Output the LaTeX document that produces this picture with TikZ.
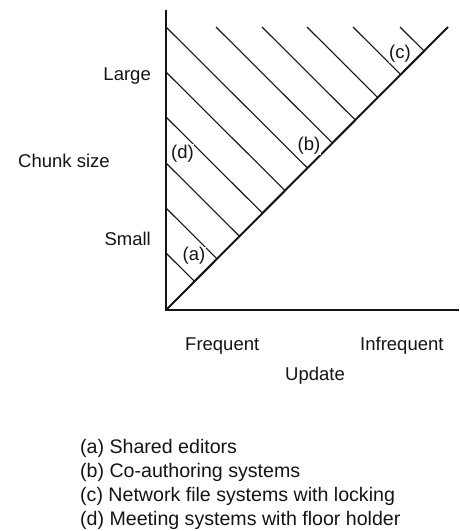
\documentclass[tikz,border=0pt]{standalone}
\usepackage{fontspec}
\setmainfont{Liberation Sans}
\usetikzlibrary{calc}
\definecolor{ink}{RGB}{20,20,20}
\tikzset{
  axisline/.style={line width=2.6pt,draw=ink},
  diagline/.style={line width=2pt,draw=ink},
  hatchline/.style={line width=1.1pt,draw=ink},
  axistext/.style={font=\fontsize{18.5}{24}\selectfont,text=ink,inner sep=0pt},
  marktext/.style={axistext,fill=white,inner sep=0.5pt},
  legendtext/.style={axistext,font=\fontsize{19.6}{24}\selectfont,anchor=base west}
}
\begin{document}
\begin{tikzpicture}[x=1pt,y=-1pt]
  \useasboundingbox (0,0) rectangle (459,531);
  \coordinate (origin) at (166,310);
  \coordinate (ytop) at (166,10);
  \coordinate (xend) at (459,310);
  \coordinate (tip) at (448,27);

  % hatching, each stroke at right angles to the diagonal
  \foreach \y in {27,72,117,163,208,253}
    \draw[hatchline] (166,\y) -- ($(origin)!(166,\y)!(tip)$);
  \foreach \x in {216,262,307,353,400}
    \draw[hatchline] (\x,27) -- ($(origin)!(\x,27)!(tip)$);

  \draw[diagline] (origin) -- (tip);
  \draw[axisline] (ytop) -- (origin) -- (xend);

  \node[axistext,anchor=base east] (large) at (151,80) {Large};
  \node[axistext,anchor=base west] (chunk) at (18,167) {Chunk size};
  \node[axistext,anchor=base east] (small) at (151,245) {Small};
  \node[axistext,anchor=base west] (frequent) at (185,350) {Frequent};
  \node[axistext,anchor=base west] (infrequent) at (360,350) {Infrequent};
  \node[axistext,anchor=base west] (update) at (285,380) {Update};

  \node[marktext] (marka) at (194,256) {(a)};
  \node[marktext] (markb) at (309,146) {(b)};
  \node[marktext] (markc) at (400,54) {(c)};
  \node[marktext] (markd) at (182.5,153.5) {(d)};

  \node[legendtext] (lega) at (80,453) {(a) Shared editors};
  \node[legendtext] (legb) at (80,477) {(b) Co-authoring systems};
  \node[legendtext] (legc) at (80,501) {(c) Network file systems with locking};
  \node[legendtext] (legd) at (80,525) {(d) Meeting systems with floor holder};
\end{tikzpicture}
\end{document}
